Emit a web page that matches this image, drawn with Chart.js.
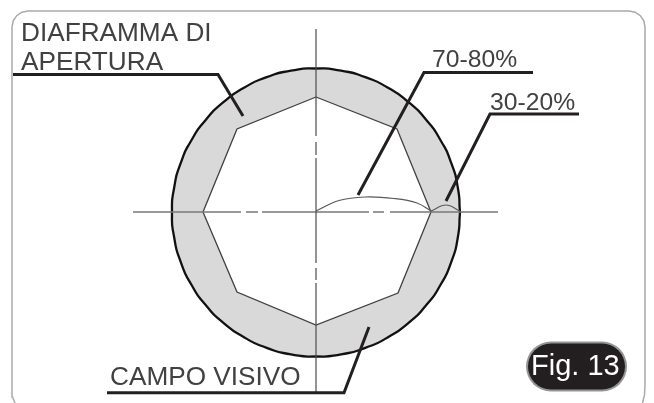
<!DOCTYPE html>
<html>
<head>
<meta charset="utf-8">
<title>Fig. 13</title>
<style>
  html, body { margin: 0; padding: 0; background: #fff; }
  canvas { display: block; }
</style>
<script src="https://cdn.jsdelivr.net/npm/chart.js@4/dist/chart.umd.min.js"></script>
</head>
<body>
<canvas id="fig" width="654" height="403"></canvas>
<script>
// values, in picture units (y goes down)
const fieldX = [460,457.8,451.3,440.7,426.3,408.6,388,365.3,341,316,291,266.7,244,223.4,205.7,191.3,180.7,174.2,172,174.2,180.7,191.3,205.7,223.4,244,266.7,291,316,341,365.3,388,408.6,426.3,440.7,451.3,457.8,460];
const fieldY = [212.5,187.5,163.2,140.5,119.9,102.2,87.8,77.2,70.7,68.5,70.7,77.2,87.8,102.2,119.9,140.5,163.2,187.5,212.5,237.5,261.8,284.5,305.1,322.8,337.2,347.8,354.3,356.5,354.3,347.8,337.2,322.8,305.1,284.5,261.8,237.5,212.5];

const apertureX = [316,397,431,398,316,237,203,237,316];
const apertureY = [97,129,212,293,325,292,212,129,97];

const frameX = [15,12.6,12,12,13.2,16.7,21.9,28,629,635.1,640.3,643.8,645,645,644.5,642.5];
const frameY = [403,397,389,27,20.9,15.7,12.2,11,11,12.2,15.7,20.9,27,385,395,403];

// null breaks the line where the centre lines are dashed
const vertX = [316,316,316,316,316,316,316,316,316,316,316,316,316,316];
const vertY = [29,136,null,142,155,null,158,263,null,268,280,null,283,393];
const horizX = [133,241,241,246,258,258,262,369,369,373,384,384,390,498];
const horizY = [212,212,null,212,212,null,212,212,null,212,212,null,212,212];

const arcLargeX = [316,339,365,394,417,431];
const arcLargeY = [211,200.5,197,198.5,203,211];
const arcSmallX = [431,446,460];
const arcSmallY = [211,205,211];

const leaderApertureX = [13,218,243];
const leaderApertureY = [74.5,74.5,116];
const leaderLargeX = [533,424,358];
const leaderLargeY = [72.5,72.5,195];
const leaderSmallX = [579,490,446];
const leaderSmallY = [114,114,201];
const leaderFieldX = [107,344,369];
const leaderFieldY = [392.7,392.7,327];

const badgeX = [551,602];
const badgeY = [366.5,366.5];

const capsTexts = ['DIAFRAMMA DI','APERTURA','CAMPO VISIVO'];
const capsX = [21,21,110];
const capsY = [41,70,385];
const percentTexts = ['70-80%','30-20%'];
const percentX = [432,490];
const percentY = [67,110];
const badgeText = 'Fig. 13';
const badgeTextX = 531;
const badgeTextY = 375;

function zip(xs, ys) {
  return xs.map((x, i) => ({ x: x, y: ys[i] }));
}

function line(xs, ys, color, width, extra) {
  return Object.assign({
    data: zip(xs, ys),
    showLine: true,
    borderColor: color,
    borderWidth: width,
    pointRadius: 0,
    fill: false,
    clip: false,
  }, extra);
}

const textPlugin = {
  id: 'figText',
  afterDatasetsDraw(chart) {
    const ctx = chart.ctx;
    const sx = chart.scales.x;
    const sy = chart.scales.y;

    ctx.save();
    ctx.textBaseline = 'alphabetic';
    ctx.textAlign = 'left';
    ctx.fillStyle = '#414042';

    ctx.font = '26.2px "Liberation Sans"';
    capsTexts.forEach((text, i) => {
      ctx.fillText(text, sx.getPixelForValue(capsX[i]), sy.getPixelForValue(capsY[i]));
    });

    ctx.font = '24.7px "Liberation Sans"';
    percentTexts.forEach((text, i) => {
      ctx.fillText(text, sx.getPixelForValue(percentX[i]), sy.getPixelForValue(percentY[i]));
    });

    ctx.font = '29px "Liberation Sans"';
    ctx.fillStyle = '#ffffff';
    ctx.fillText(badgeText, sx.getPixelForValue(badgeTextX), sy.getPixelForValue(badgeTextY));
    ctx.restore();
  },
};

// first dataset ends up on top
new Chart(document.getElementById('fig'), {
  type: 'scatter',
  data: {
    datasets: [
      line(badgeX, badgeY, '#231f20', 46, { borderCapStyle: 'round' }),
      line(badgeX, badgeY, '#939598', 50, { borderCapStyle: 'round' }),
      line(leaderApertureX, leaderApertureY, '#231f20', 3),
      line(leaderLargeX, leaderLargeY, '#231f20', 3),
      line(leaderSmallX, leaderSmallY, '#231f20', 3),
      line(leaderFieldX, leaderFieldY, '#231f20', 3),
      line(arcSmallX, arcSmallY, '#58595b', 1.2, { tension: 0.4 }),
      line(arcLargeX, arcLargeY, '#58595b', 1.2, { tension: 0.4 }),
      line(vertX, vertY, '#4d4d4f', 1.2),
      line(horizX, horizY, '#77787b', 1.3),
      line(apertureX, apertureY, '#404042', 1.3, { fill: 'shape', backgroundColor: '#ffffff' }),
      line(fieldX, fieldY, '#111111', 2.3, { tension: 0.67, fill: 'shape', backgroundColor: '#d9d9d9' }),
      line(frameX, frameY, '#a7a9ac', 1.5),
    ],
  },
  options: {
    responsive: false,
    animation: false,
    events: [],
    layout: { padding: 0 },
    plugins: {
      legend: { display: false },
      title: { display: false },
      tooltip: { enabled: false },
    },
    scales: {
      x: { type: 'linear', display: false, min: 0, max: 654 },
      y: { type: 'linear', display: false, min: 0, max: 403, reverse: true },
    },
  },
  plugins: [textPlugin],
});
</script>
</body>
</html>
